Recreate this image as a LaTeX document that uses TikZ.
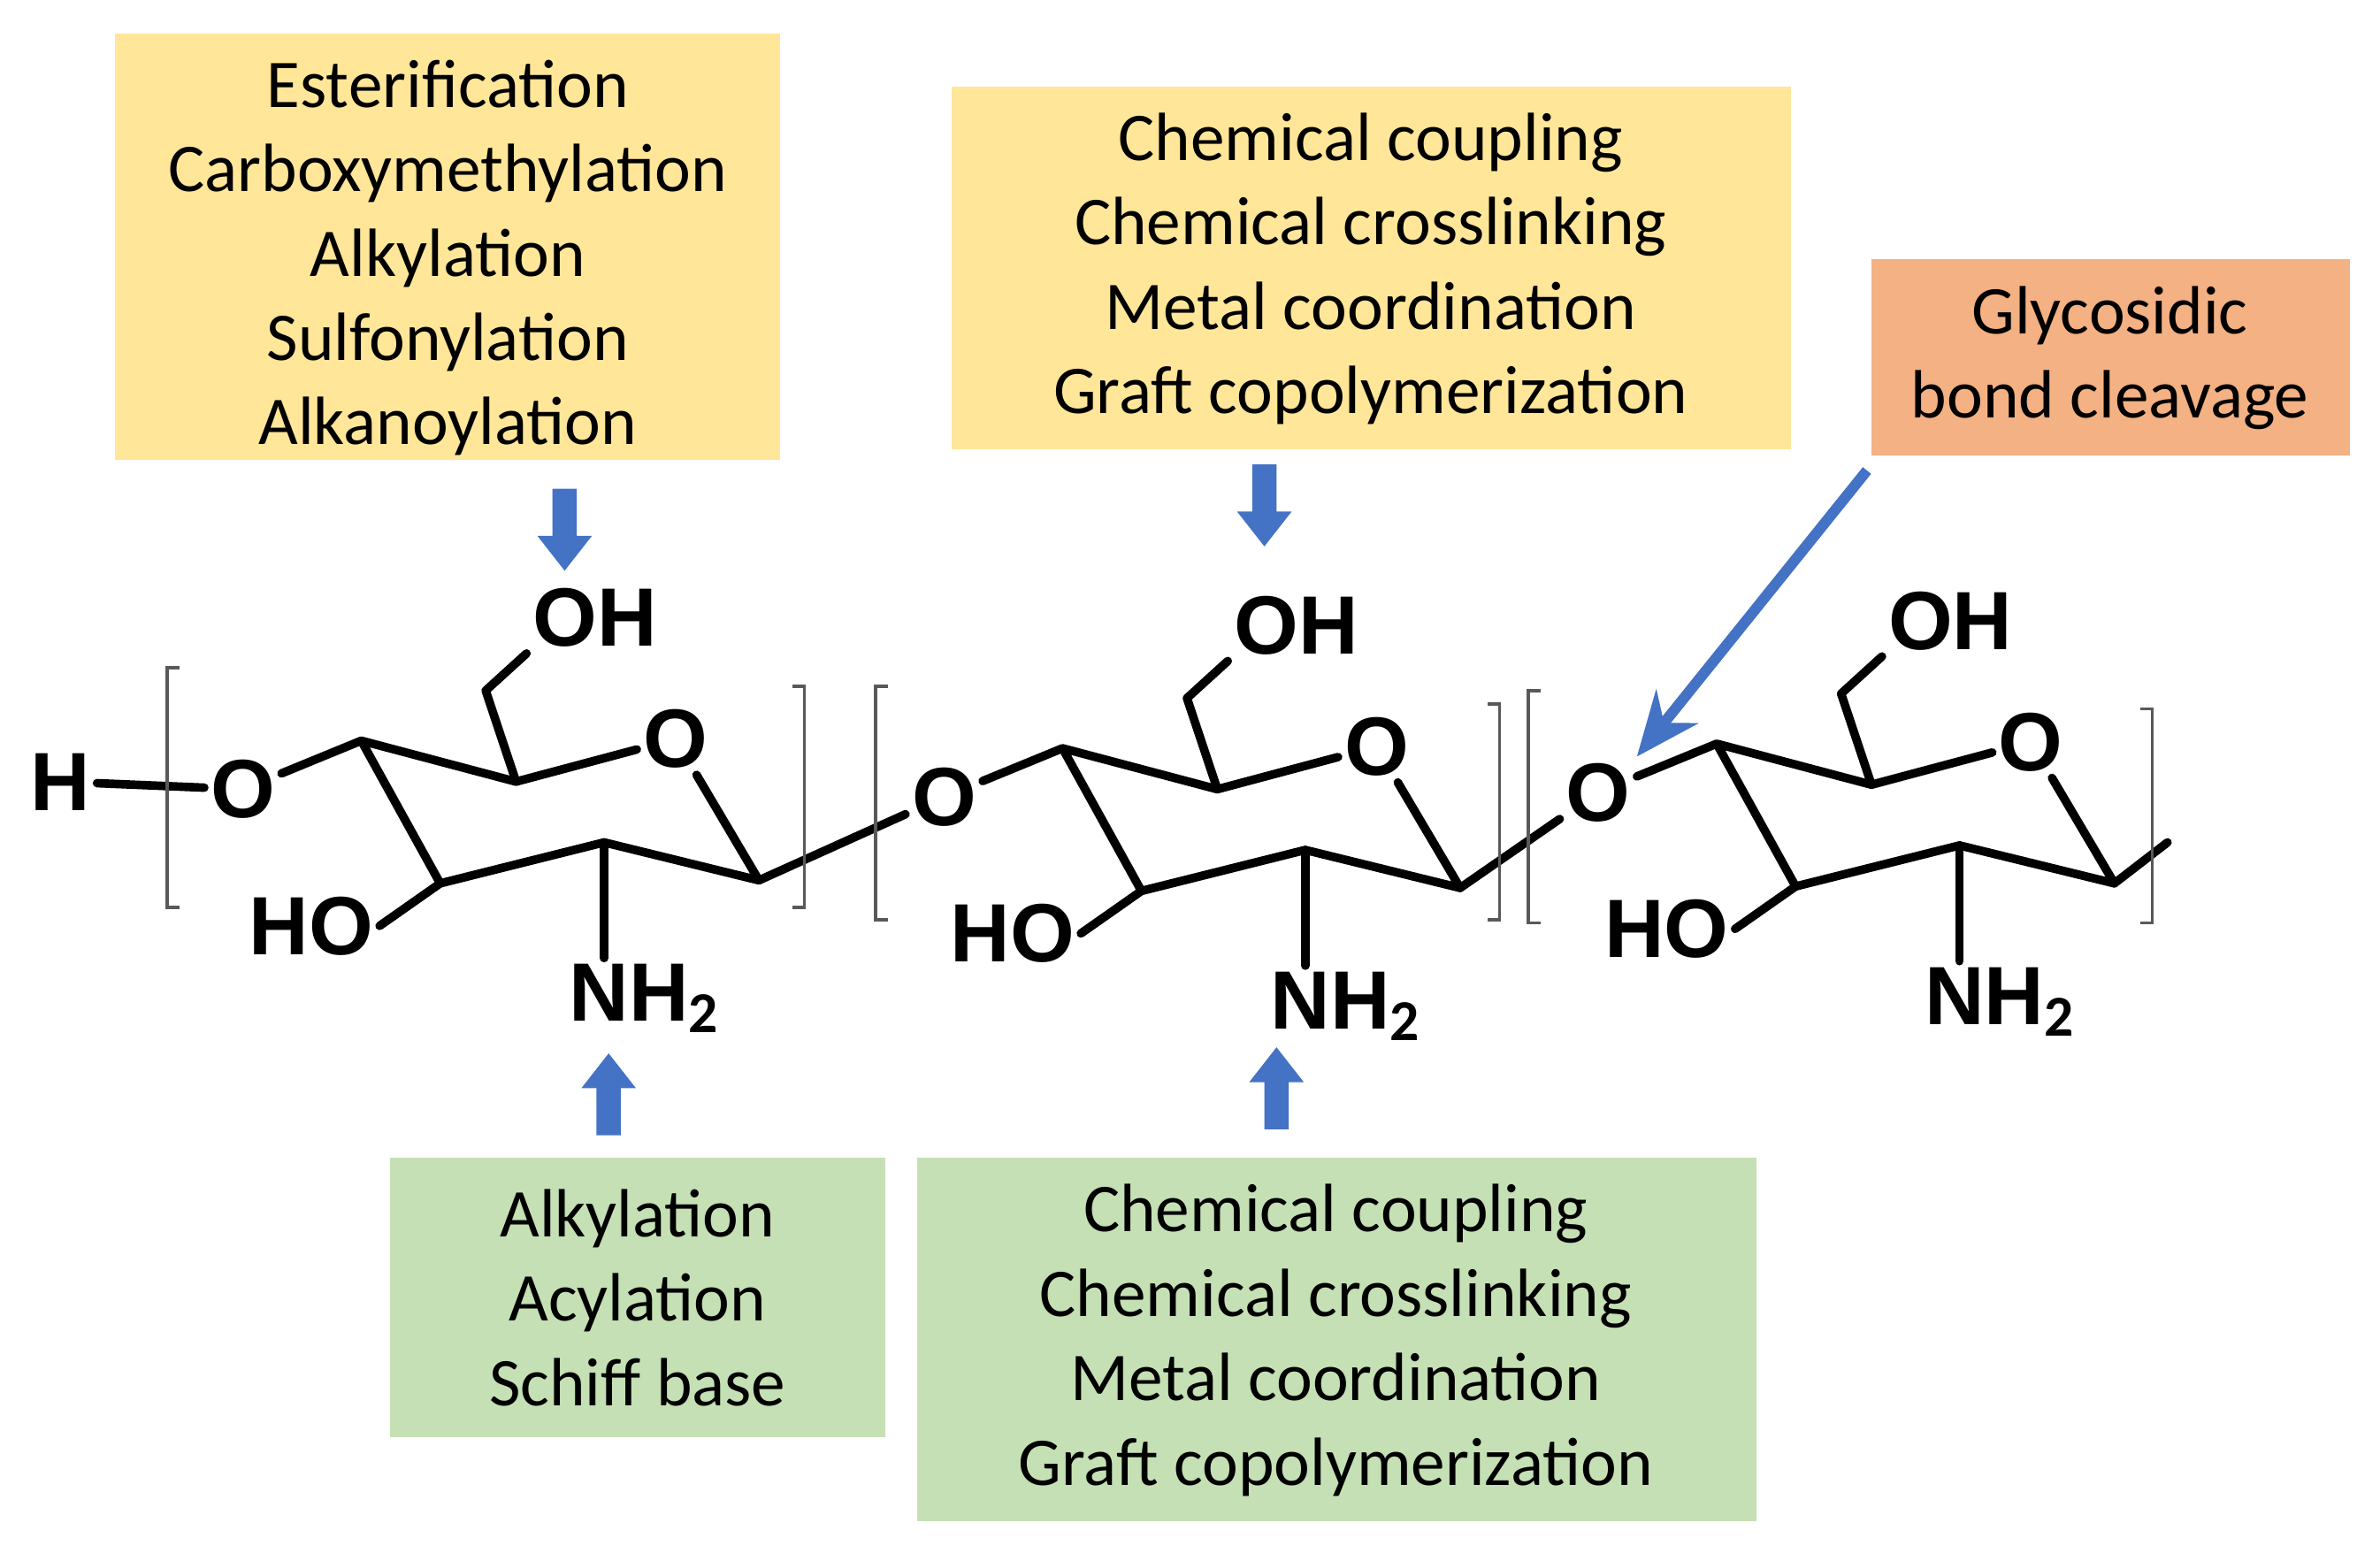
\documentclass[tikz,border=0pt]{standalone}
\usepackage{fontspec}
\setmainfont{Carlito}
\newfontfamily\chemf{Liberation Sans}
\usetikzlibrary{arrows.meta}
\definecolor{ylw}{HTML}{FFE699}
\definecolor{org}{HTML}{F4B183}
\definecolor{grn}{HTML}{C5E0B4}
\definecolor{blu}{HTML}{4472C4}
\begin{document}
\begin{tikzpicture}[x=0.01cm,y=-0.01cm,
 box/.style={align=center,font=\fontsize{12.8}{15.8}\selectfont,inner sep=0},
 atom/.style={font=\chemf\bfseries\fontsize{15.5}{17}\selectfont,inner sep=1pt},
 bond/.style={line width=1.6pt,line cap=round,line join=round},
 brk/.style={line width=0.6pt,gray!70!black},
 barr/.style={fill=blu},
]
\useasboundingbox (0,0) rectangle (1568,1028);
% boxes
\fill[ylw] (76,22) rectangle (514,303);
\node[box] (b1) at (295,170) {Esterification\\Carboxymethylation\\Alkylation\\Sulfonylation\\Alkanoylation};
\fill[ylw] (627,57) rectangle (1180,296);
\node[box] (b2) at (903,177) {Chemical coupling\\Chemical crosslinking\\Metal coordination\\Graft copolymerization};
\fill[org] (1233,171) rectangle (1548,300);
\node[box] (b3) at (1390,236) {Glycosidic\\bond cleavage};
\fill[grn] (257,763) rectangle (583,947);
\node[box] (g1) at (420,855) {Alkylation\\Acylation\\Schiff base};
\fill[grn] (604,763) rectangle (1157,1002);
\node[box] (g2) at (880,883) {Chemical coupling\\Chemical crosslinking\\Metal coordination\\Graft copolymerization};
% block arrows (down)
\foreach \x/\t in {372/322, 833/306}{
 \fill[barr] (\x-8,\t) -- (\x+8,\t) -- (\x+8,\t+31) -- (\x+18,\t+31) -- (\x,\t+54) -- (\x-18,\t+31) -- (\x-8,\t+31) -- cycle;
}
% block arrows (up)
\foreach \x/\b in {401/748, 841/744}{
 \fill[barr] (\x-8,\b) -- (\x+8,\b) -- (\x+8,\b-31) -- (\x+18,\b-31) -- (\x,\b-54) -- (\x-18,\b-31) -- (\x-8,\b-31) -- cycle;
}
% H
\node[atom] (H) at (40,515) {H};
\foreach \i/\dx/\dy in {1/0/0,2/462/5,3/893/2}{
 \begin{scope}[shift={(160+\dx,520+\dy)}]
  \node[atom] (Og\i) at (0,0) {O};
  \coordinate (C4\i) at (78,-32);
  \coordinate (C5\i) at (180,-5);
  \node[atom] (Or\i) at (285,-33) {O};
  \coordinate (C1\i) at (340,60);
  \coordinate (C2\i) at (238,35);
  \coordinate (C3\i) at (130,62);
  \coordinate (C6\i) at (160,-65);
  \node[atom] (OH\i) at (232,-113) {OH};
  \node[atom] (HO\i) at (45,90) {HO};
  \node[atom] (N\i) at (265,138) {NH$_{\mathbf 2}$};
  \draw[bond] (Og\i) -- (C4\i) -- (C5\i) -- (Or\i) -- (C1\i) -- (C2\i) -- (C3\i) -- (C4\i);
  \draw[bond] (C5\i) -- (C6\i) -- (OH\i.west|-OH\i.south west);
  \draw[bond] (C3\i) -- (HO\i.east);
  \draw[bond] (C2\i) -- (C2\i|-N\i.north);
 \end{scope}
}
\draw[bond] (H) -- (Og1);
\draw[bond] (C11) -- (Og2);
\draw[bond] (C12) -- (Og3);
\coordinate (end) at (1428,555);
\draw[bond] (C13) -- (end);
% brackets
\foreach \l/\r/\t/\b in {110/530/440/598, 577/988/452/606, 1007/1418/455/608}{
 \draw[brk] (\l+8,\t) -- (\l,\t) -- (\l,\b) -- (\l+8,\b);
 \draw[brk] (\r-8,\t+12) -- (\r,\t+12) -- (\r,\b) -- (\r-8,\b);
}
% diagonal arrow
\coordinate (ds) at (1230,310);
\draw[blu,line width=2pt,-{Stealth[length=12pt,width=10pt]}] (ds) -- (Og3.north east);
\end{tikzpicture}
\end{document}
